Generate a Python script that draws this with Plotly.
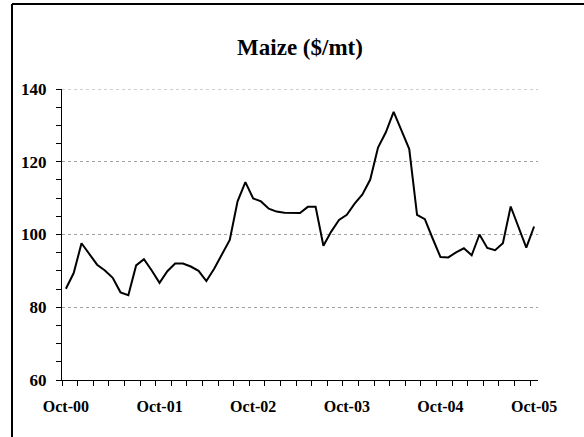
import plotly.graph_objects as go

months = ["Oct-00","Nov-00","Dec-00","Jan-01","Feb-01","Mar-01","Apr-01","May-01","Jun-01","Jul-01","Aug-01","Sep-01",
          "Oct-01","Nov-01","Dec-01","Jan-02","Feb-02","Mar-02","Apr-02","May-02","Jun-02","Jul-02","Aug-02","Sep-02",
          "Oct-02","Nov-02","Dec-02","Jan-03","Feb-03","Mar-03","Apr-03","May-03","Jun-03","Jul-03","Aug-03","Sep-03",
          "Oct-03","Nov-03","Dec-03","Jan-04","Feb-04","Mar-04","Apr-04","May-04","Jun-04","Jul-04","Aug-04","Sep-04",
          "Oct-04","Nov-04","Dec-04","Jan-05","Feb-05","Mar-05","Apr-05","May-05","Jun-05","Jul-05","Aug-05","Sep-05",
          "Oct-05"]

maize = [85.1, 89.4, 97.6, 94.8, 91.7, 90.1, 88.1, 84.1, 83.3, 91.5, 93.2, 90.1,
         86.7, 89.9, 92.0, 92.0, 91.2, 90.0, 87.2, 90.6, 94.5, 98.5, 109.1, 114.4,
         109.9, 109.1, 107.1, 106.3, 106.0, 105.9, 105.9, 107.6, 107.6, 96.9, 100.8, 104.0,
         105.4, 108.5, 111.0, 115.1, 123.9, 128.1, 133.7, 128.6, 123.5, 105.4, 104.2, 98.9,
         93.8, 93.7, 95.1, 96.2, 94.3, 100.0, 96.3, 95.7, 97.6, 107.7, 102.2, 96.4,
         102.2]

tick_labels = ["Oct-00", "Oct-01", "Oct-02", "Oct-03", "Oct-04", "Oct-05"]
tick_pos = [months.index(t) for t in tick_labels]
y_ticks = [60, 80, 100, 120, 140]
y_min, y_max = 60, 140

x = list(range(len(months)))

W, H = 584, 437
ML, MR, MT, MB = 62, 46, 89, 57
PW, PH = W - ML - MR, H - MT - MB

fig = go.Figure()
fig.add_trace(go.Scatter(
    x=x, y=maize, mode="lines",
    line=dict(color="black", width=2),
    text=months, hovertemplate="%{text}: %{y}<extra></extra>",
    showlegend=False,
))

fig.update_layout(
    width=W, height=H,
    margin=dict(l=ML, r=MR, t=MT, b=MB),
    paper_bgcolor="white", plot_bgcolor="white",
    title=dict(text="<b>Maize ($/mt)</b>", x=0.5, xref="paper", xanchor="center",
               y=1 - 47 / H, yref="container", yanchor="middle",
               font=dict(family="Liberation Serif", size=23, color="black")),
    xaxis=dict(
        range=[-0.5, len(months) - 0.5],
        tickmode="array", tickvals=tick_pos, ticktext=tick_labels,
        ticks="", showgrid=False, zeroline=False,
        showline=True, linecolor="black", linewidth=1,
        tickfont=dict(family="Liberation Serif", size=16, color="black", weight="bold"),
        ticklabelstandoff=12,
        minor=dict(ticks="outside", tick0=-0.5, dtick=2, ticklen=5,
                   tickcolor="black", tickwidth=1, showgrid=False),
        fixedrange=True,
    ),
    yaxis=dict(
        range=[y_min, y_max],
        tickmode="array", tickvals=y_ticks,
        ticks="outside", ticklen=5, tickcolor="black", tickwidth=1,
        showgrid=True, gridcolor="#a0a0a0", griddash="dot", gridwidth=1,
        zeroline=False, showline=True, linecolor="black", linewidth=1,
        tickfont=dict(family="Liberation Serif", size=17, color="black", weight="bold"),
        ticklabelstandoff=6,
        minor=dict(ticks="outside", dtick=5, ticklen=5, tickcolor="black",
                   tickwidth=1, showgrid=False),
        fixedrange=True,
    ),
    shapes=[
        dict(type="line", xref="paper", yref="y", x0=0, x1=1, y0=y_max, y1=y_max,
             line=dict(color="#a0a0a0", width=1, dash="dot"), layer="below"),
        dict(type="line", xref="paper", yref="paper",
             x0=(12 - ML) / PW, x1=(12 - ML) / PW, y0=(H - 4 - MB) / PH, y1=-MB / PH - 0.02,
             line=dict(color="black", width=2)),
        dict(type="line", xref="paper", yref="paper",
             x0=(12 - ML) / PW, x1=(W - ML) / PW + 0.02, y0=(H - 4 - MB) / PH, y1=(H - 4 - MB) / PH,
             line=dict(color="black", width=2)),
    ],
)

fig.write_html("out.html", config={"displayModeBar": False},
               post_script="document.body.style.margin='0';")
